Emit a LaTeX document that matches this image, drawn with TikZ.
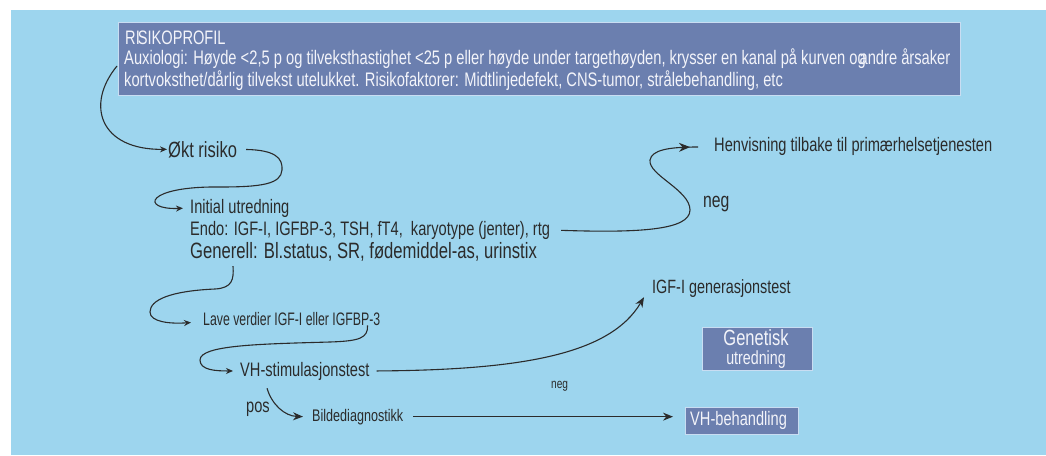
\documentclass[tikz,border=0pt]{standalone}
\usepackage{fontspec}
\setmainfont[FakeStretch=0.75]{Liberation Sans}
\newfontfamily\narrowf[FakeStretch=0.68]{Liberation Sans}
\usetikzlibrary{arrows.meta,decorations.markings}
\definecolor{bgblue}{HTML}{9DD5EE}
\definecolor{boxblue}{HTML}{6B7FAF}
\definecolor{boxedge}{HTML}{C9DDF2}
\definecolor{ink}{HTML}{2B2B2B}
\definecolor{boxtext}{HTML}{F3F4FA}
\newcommand\myfs[1]{\fontsize{#1}{#1}\selectfont}
\begin{document}
\begin{tikzpicture}[x=1pt,y=-1pt,
  lbl/.style={inner sep=0pt, anchor=base west, text=ink},
  boxlbl/.style={inner sep=0pt, anchor=base west, text=boxtext},
  panel/.style={fill=boxblue, draw=boxedge, line width=1.2pt, inner sep=0pt, anchor=north west},
  conn/.style={draw=ink, line width=1.1pt, -{Stealth[length=10pt,width=8pt]}},
  connsm/.style={draw=ink, line width=1.1pt, -{Stealth[length=7pt,width=6pt]}},
  midtip/.style={draw=ink, line width=1.1pt, postaction={decorate},
    decoration={markings, mark=at position -8pt with {\arrow[ink]{Stealth[length=11pt,width=9pt]}}}},
]
\useasboundingbox (0,0) rectangle (1046,455);
\fill[white] (0,0) rectangle (1046,455);
\fill[bgblue] (11,10) rectangle (1046,455);

% risk profile box
\node[panel, minimum width=842pt, minimum height=73pt] (risk) at (118,22) {};
\node[boxlbl, font=\myfs{19.5}] (riskT) at (125,44) {RI\kern-2pt SIKOPROFIL};
\node[boxlbl, font=\myfs{19.6}] (riskA) at (124,64) {Auxiologi: Høyde <2,5 p og tilveksthastighet <25 p eller høyde under targethøyden, krysser en kanal på kurven o\rlap{g}\kern2pt andre årsaker};
\node[boxlbl, font=\myfs{19.6}] (riskB) at (124,86) {kortvoksthet/dårlig tilvekst utelukket. Risikofaktorer: Midtlinjedefekt, CNS-tumor, strålebehandling, etc};

% text nodes
\node[lbl, font=\myfs{22}] (okt) at (168,157) {Økt risiko};
\node[lbl, font=\myfs{19.5}] (init) at (190,213) {Initial utredning};
\node[lbl, font=\myfs{19.5}] (endo) at (190,235) {Endo: IGF-I, IGFBP-3, TSH, fT4,\ \ karyotype (jenter), rtg};
\node[lbl, font=\myfs{22.2}] (gen) at (190,258) {Generell: Bl.status, SR, fødemiddel-as, urinstix};
\node[lbl, font=\myfs{19.5}] (henv) at (714,151) {Henvisning tilbake til primærhelsetjenesten};
\node[lbl, font=\myfs{21}] (neg1) at (703,207) {neg};
\node[lbl, font=\myfs{19.2}] (igf) at (652,293) {IGF-I generasjonstest};
\node[lbl, font=\narrowf\myfs{18.1}] (lave) at (203,325) {Lave verdier IGF-I eller IGFBP-3};
\node[lbl, font=\myfs{19.5}] (vh) at (240,376) {VH-stimulasjonstest};
\node[lbl, font=\myfs{13.5}] (neg2) at (551,388) {neg};
\node[lbl, font=\myfs{19.5}] (pos) at (246,412) {pos};
\node[lbl, font=\myfs{16.8}] (bild) at (312,421) {Bildediagnostikk};

% blue panels
\node[panel, minimum width=110pt, minimum height=43pt] (genet) at (702,327) {};
\node[boxlbl, font=\myfs{22}, anchor=base] (genetA) at (756,345) {Genetisk};
\node[boxlbl, font=\myfs{19}, anchor=base] (genetB) at (756,364.5) {utredning};
\node[panel, minimum width=113pt, minimum height=27pt] (vhb) at (685,407) {};
\node[boxlbl, font=\myfs{19.5}] (vhbT) at (690,425) {VH-behandling};

% connectors
\coordinate (a1) at (117,66);
\draw[connsm, shorten >=1pt] (a1) .. controls (85,105) and (100,150) .. (okt.west);
\draw[connsm, shorten <=9pt, shorten >=7pt] (okt.east) .. controls (275,150) and (283,158) .. (282,170)
   .. controls (281,184) and (262,187) .. (220,187)
   .. controls (145,186) and (140,210) .. (init.west);
\coordinate (he) at (698,147);
\draw[midtip, shorten <=11pt] (endo.east) .. controls (640,233) and (690,230) .. (690,210)
   .. controls (690,190) and (648,175) .. (650,160)
   .. controls (652,150) and (668,147) .. (he);
\draw[connsm] ([xshift=43pt,yshift=-5pt]gen.south west) .. controls (234,280) and (232,288) .. (215,289)
   .. controls (170,291) and (150,300) .. (150,312)
   .. controls (150,322) and (170,324) .. ([xshift=-12pt,yshift=-4pt]lave.west);
\draw[connsm] ([xshift=-13pt]lave.south east) .. controls (368,338) and (360,341) .. (330,342)
   .. controls (260,344) and (200,345) .. (200,360)
   .. controls (200,370) and (215,371) .. ([xshift=-7pt]vh.west);
\draw[conn] ([xshift=7pt]vh.east) .. controls (520,370) and (610,355) .. ([xshift=-8pt]igf.south west);
\draw[conn] ([xshift=27pt,yshift=-8pt]vh.south west) .. controls (272,405) and (285,416) .. ([xshift=-9pt]bild.west);
\draw[conn, shorten <=10pt, shorten >=12pt] (bild.east) -- (bild.east -| vhb.west);
\end{tikzpicture}
\end{document}
